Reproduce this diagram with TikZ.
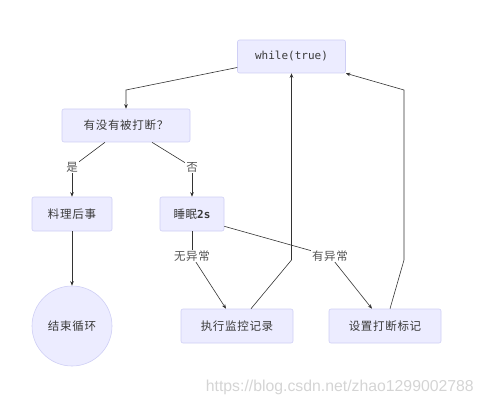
\documentclass[tikz,border=0pt]{standalone}
\usepackage{fontspec}
\usetikzlibrary{arrows.meta}
\newfontfamily\cjk[LetterSpace=6]{Noto Sans CJK SC}
\newfontfamily\monof{DejaVu Sans Mono}
\newfontfamily\wmf{Liberation Sans}
\definecolor{nodefill}{HTML}{ECECFF}
\definecolor{nodeline}{HTML}{CFCFF5}
\definecolor{txt}{HTML}{3A3A3A}
\definecolor{lbltxt}{HTML}{555555}
\definecolor{edge}{HTML}{333333}
\definecolor{wm}{HTML}{D4D4D4}
\tikzset{
  box/.style={draw=nodeline, fill=nodefill, rounded corners=2pt, line width=0.6pt,
    text=txt, font=\cjk\fontsize{11.5}{13}\selectfont, inner sep=0pt, align=center},
  endcirc/.style={draw=nodeline, fill=nodefill, circle, line width=0.6pt,
    text=txt, font=\cjk\fontsize{11.5}{13}\selectfont, inner sep=0pt, minimum size=80pt},
  lbl/.style={fill=white, text=lbltxt, font=\cjk\fontsize{11.5}{13}\selectfont, inner sep=1pt},
  conn/.style={draw=edge, line width=0.6pt},
  arr/.style={conn, -{Stealth[length=4.5pt,width=3.6pt]}}
}
\begin{document}
\begin{tikzpicture}[x=1pt,y=-1pt]
\useasboundingbox (0,0) rectangle (484,406);
% nodes
\node[box, minimum width=108pt, minimum height=33pt] (w) at (291.5,56.5) {\monof\fontsize{11}{13}\selectfont while(true)};
\node[box, minimum width=128pt, minimum height=33pt] (q) at (126,125.5) {有没有被打断？};
\node[box, minimum width=80pt, minimum height=34pt] (l) at (72,214) {料理后事};
\node[box, minimum width=64pt, minimum height=34pt] (s) at (192,214) {睡眠{\monof\bfseries\fontsize{11}{13}\selectfont 2s}};
\node[endcirc] (e) at (72,326) {结束循环};
\node[box, minimum width=112pt, minimum height=34pt] (m) at (237,326) {执行监控记录};
\node[box, minimum width=112pt, minimum height=34pt] (t) at (385,326) {设置打断标记};
% label anchors
\coordinate (yesc) at (72,167);
\coordinate (noc) at (192,167);
\coordinate (noexc) at (192,256);
\coordinate (exc) at (330,256);
\coordinate (b1) at (126,90);
\coordinate (b2) at (291.5,260);
\coordinate (b3) at (404,260);
\coordinate (b4) at (404,90);
% connectors
\draw[arr] ([yshift=-11pt]w.west) -- (b1) -- (q.north);
\draw[conn] ([xshift=-21pt]q.south) -- (yesc);
\draw[arr] (yesc) -- (l.north);
\draw[conn] ([xshift=26pt]q.south) -- (noc);
\draw[arr] (noc) -- (s.north);
\draw[arr] (l.south) -- (e.north);
\draw[conn] (s.south) -- (noexc);
\draw[arr] (noexc) -- ([xshift=-11pt]m.north);
\draw[conn] ([yshift=5pt]s.south east) -- (exc);
\draw[arr] (exc) -- ([xshift=-13pt]t.north);
\draw[arr] ([xshift=14pt]m.north) -- (b2) -- (w.south);
\draw[arr] ([xshift=5pt]t.north) -- (b3) -- (b4) -- (w.south east);
% labels
\node[lbl] (yes) at (yesc) {是};
\node[lbl] (no) at (noc) {否};
\node[lbl] (noex) at (noexc) {无异常};
\node[lbl] (ex) at (exc) {有异常};
% watermark
\node[text=wm, font=\wmf\fontsize{15.8}{17}\selectfont, anchor=east, inner sep=0pt] (wmk) at (474,387) {https://blog.csdn.net/zhao1299002788};
\end{tikzpicture}
\end{document}
